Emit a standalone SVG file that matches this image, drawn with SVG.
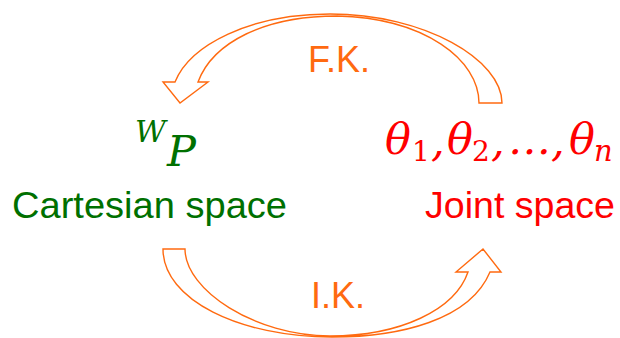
<svg xmlns="http://www.w3.org/2000/svg" width="620" height="338" viewBox="0 0 620 338">
<style>
.arrow{fill:#ffffff;stroke:#ff6a10;stroke-width:1.4;stroke-linejoin:miter}
.lbl{font-family:"Liberation Sans",Arial,sans-serif;font-size:37px}
.ork{fill:#ff6a10;font-family:"Liberation Sans",Arial,sans-serif;font-size:36px}
.math{font-family:"DejaVu Serif","Liberation Serif",serif;font-style:italic}
</style>
<rect width="620" height="338" fill="#ffffff"/>
<g id="connectors">
<g id="fk">
<path class="arrow" d="M479,103 C479,60 425,18 337,16 C265,16 213,42 198,82 L208,82 L180,103 L163,82 L175,82 C190,45 250,14 330,14 C425,14 502,60 502,103 Z"/>
<text class="ork" x="339" y="72" text-anchor="middle">F.K.</text>
</g>
<g id="ik">
<path class="arrow" d="M163,249 L185,249 C185,290 255,336 330,336 C400,336 455,310 468,272 L456,272 L483,249 L501,272 L490,272 C470,320 400,337 332,337 C240,337 163,300 163,249 Z"/>
<text class="ork" x="338" y="308" text-anchor="middle">I.K.</text>
</g>
</g>
<g id="cartesian">
<text class="math" fill="#007000"><tspan x="135" y="142" font-size="30">W</tspan><tspan x="167" y="166" font-size="43">P</tspan></text>
<text class="lbl" fill="#007000" x="12" y="218" textLength="275" lengthAdjust="spacingAndGlyphs">Cartesian space</text>
</g>
<g id="joint">
<text class="math" fill="#ff0000" font-size="43"><tspan x="385" y="154">θ</tspan><tspan x="412" y="161" font-size="28" font-style="normal">1</tspan><tspan x="431" y="156">,</tspan><tspan x="447" y="154">θ</tspan><tspan x="472" y="161" font-size="28" font-style="normal">2</tspan><tspan x="491" y="156">,</tspan><tspan x="508" y="154">…</tspan><tspan x="551" y="156">,</tspan><tspan x="569" y="154">θ</tspan><tspan x="594" y="161" font-size="29">n</tspan></text>
<text class="lbl" fill="#ff0000" x="425" y="218" textLength="190" lengthAdjust="spacingAndGlyphs">Joint space</text>
</g>
</svg>
